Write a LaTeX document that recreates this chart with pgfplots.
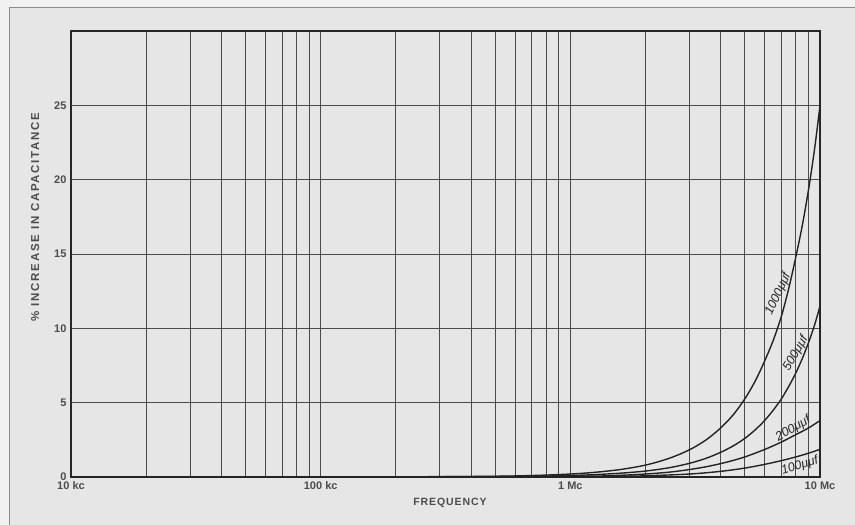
\documentclass[border=0pt]{standalone}
\usepackage{fontspec}
\setmainfont{Liberation Sans}
\newfontfamily\spacedfont[LetterSpace=9]{Liberation Sans}
\newfontfamily\widefont[LetterSpace=15]{Liberation Sans}
\usepackage{pgfplots}
\pgfplotsset{compat=1.18}
\definecolor{bg}{RGB}{230,230,230}
\definecolor{bgout}{RGB}{241,241,241}
\definecolor{gridc}{RGB}{75,75,75}
\definecolor{curvec}{RGB}{35,35,35}
\begin{document}
\begin{tikzpicture}[x=1pt,y=1pt]
\fill[bgout] (0,0) rectangle (855,525);
\fill[bg] (9,0) rectangle (855,517);
\draw[black!45, line width=1pt] (9,0) -- (9,517) -- (855,517);
\begin{axis}[
  at={(71pt,48pt)}, anchor=south west,
  width=749pt, height=446pt, scale only axis,
  xmode=log, xmin=1e4, xmax=1e7, ymin=0, ymax=30,
  xtick={1e4,1e5,1e6,1e7}, xticklabels={10 kc,100 kc,1 Mc,10 Mc},
  minor xtick={2e4,3e4,4e4,5e4,6e4,7e4,8e4,9e4,2e5,3e5,4e5,5e5,6e5,7e5,8e5,9e5,2e6,3e6,4e6,5e6,6e6,7e6,8e6,9e6},
  ytick={0,5,10,15,20,25},
  grid=both,
  major grid style={draw=gridc, line width=0.9pt},
  minor grid style={draw=gridc, line width=0.9pt},
  major tick length=0pt, minor tick length=0pt,
  axis line style={draw=black!85, line width=1.5pt},
  /pgf/number format/assume math mode=true,
  tick label style={font=\bfseries\fontsize{11}{13}\selectfont, text=black!70},
  xticklabel style={yshift=-1pt},
  yticklabel style={xshift=-1pt},
  xlabel={FREQUENCY},
  ylabel={\% INCREASE IN CAPACITANCE},
  label style={text=black!70},
  xlabel style={at={(axis description cs:0.506,0)}, anchor=center, yshift=-26pt, font=\spacedfont\bfseries\fontsize{10.5}{12}\selectfont},
  ylabel style={at={(axis description cs:-0.048,0.583)}, anchor=center, rotate=0, font=\widefont\bfseries\fontsize{11.5}{13}\selectfont},
  clip=false,
]
\addplot[curvec, line width=1.4pt, smooth] coordinates {
(1e4,0)(1e5,0)(5e5,0.05)(1e6,0.2)(1.5e6,0.45)(2e6,0.8)(2.5e6,1.27)(3e6,1.83)(3.5e6,2.5)(4e6,3.3)(4.5e6,4.2)(5e6,5.26)(5.5e6,6.45)(6e6,7.8)(6.5e6,9.2)(7e6,10.8)(7.5e6,12.7)(8e6,14.8)(8.5e6,16.95)(9e6,19.35)(9.5e6,22.0)(1e7,25)};
\addplot[curvec, line width=1.4pt, smooth] coordinates {
(1e4,0)(1e5,0)(5e5,0.02)(1e6,0.1)(1.5e6,0.23)(2e6,0.4)(2.5e6,0.63)(3e6,0.92)(3.5e6,1.26)(4e6,1.66)(4.5e6,2.1)(5e6,2.6)(5.5e6,3.17)(6e6,3.8)(6.5e6,4.5)(7e6,5.25)(7.5e6,6.1)(8e6,7.0)(8.5e6,7.98)(9e6,9.05)(9.5e6,10.2)(1e7,11.5)};
\addplot[curvec, line width=1.4pt, smooth] coordinates {
(1e4,0)(1e5,0)(1e6,0.05)(1.5e6,0.1)(2e6,0.2)(2.5e6,0.33)(3e6,0.5)(3.5e6,0.69)(4e6,0.9)(4.5e6,1.12)(5e6,1.35)(6e6,1.85)(7e6,2.35)(8e6,2.85)(9e6,3.3)(1e7,3.8)};
\addplot[curvec, line width=1.4pt, smooth] coordinates {
(1e4,0)(1e5,0)(1e6,0.02)(1.5e6,0.04)(2e6,0.08)(3e6,0.2)(4e6,0.38)(5e6,0.6)(6e6,0.85)(7e6,1.1)(8e6,1.35)(9e6,1.6)(1e7,1.86)};
\node[rotate=65, inner sep=0pt, font=\itshape\fontsize{12.5}{14}\selectfont, text=black!85] at (axis cs:6.8e6,12.3) {1000μμf};
\node[rotate=60, inner sep=0pt, font=\itshape\fontsize{12.5}{14}\selectfont, text=black!85] at (axis cs:8.0e6,8.3) {500μμf};
\node[rotate=30, inner sep=0pt, font=\itshape\fontsize{12.5}{14}\selectfont, text=black!85] at (axis cs:7.8e6,3.25) {200μμf};
\node[rotate=18, inner sep=0pt, font=\itshape\fontsize{12.5}{14}\selectfont, text=black!85] at (axis cs:8.3e6,0.75) {100μμf};
\end{axis}
\pgfresetboundingbox
\useasboundingbox (0,0) rectangle (855,525);
\end{tikzpicture}
\end{document}
